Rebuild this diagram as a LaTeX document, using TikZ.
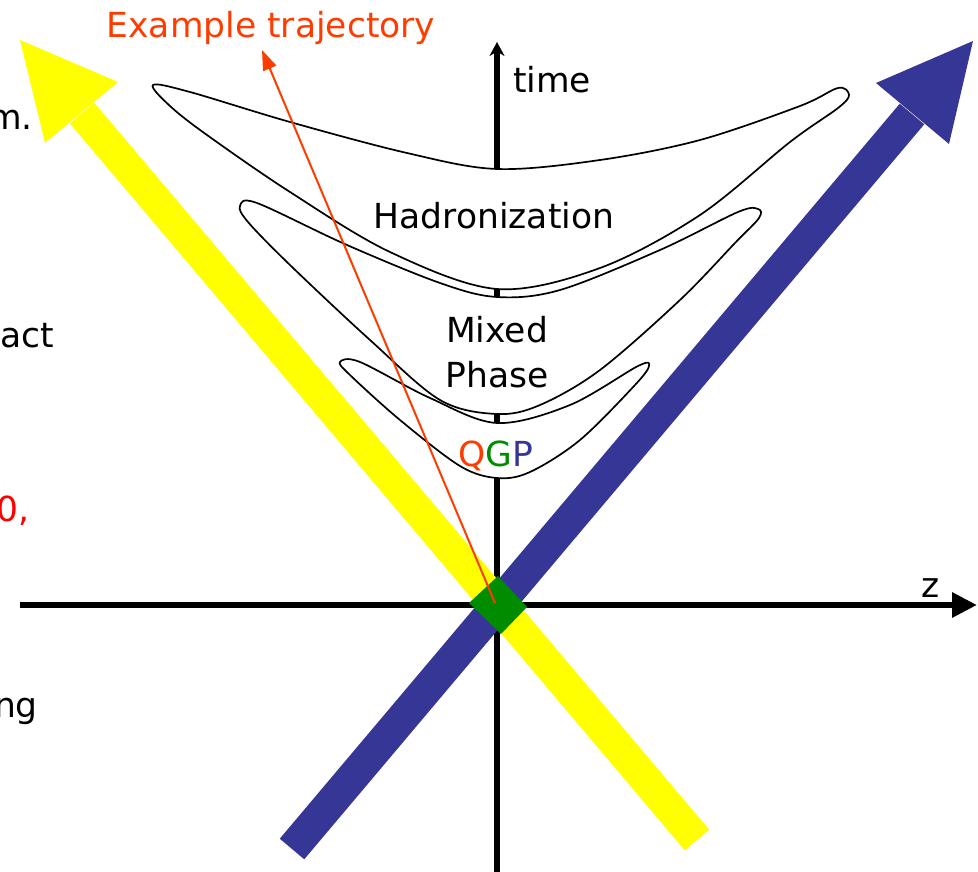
\documentclass[tikz,border=0pt]{standalone}
\usepackage{fontspec}
\setmainfont{DejaVu Sans}
\usetikzlibrary{arrows.meta,calc}

\definecolor{beamblue}{RGB}{54,54,150}
\definecolor{beamyellow}{RGB}{255,255,0}
\definecolor{trajred}{RGB}{255,60,0}
\definecolor{qgpgreen}{RGB}{0,140,0}

\begin{document}
\begin{tikzpicture}[x=1pt, y=-1pt,
            lbl/.style={font=\fontsize{34.5}{45}\selectfont, inner sep=0pt},
            axis/.style={line width=6pt},
            phase/.style={draw, fill=white, line width=1.7pt},
            band/.style={line width=32pt},
            traj/.style={trajred, line width=2pt, -{Triangle[length=20pt,width=14pt]}}
        ]
            \useasboundingbox (0,0) rectangle (978,872);
            
            % Axes
            \coordinate (tbot) at (497,872);
            \coordinate (ttop) at (497,42);
            \coordinate (zleft) at (20,605);
            \coordinate (zright) at (977,605);
            \draw[axis, -{Stealth[length=14pt,width=15pt]}] (tbot) -- (ttop);
            \draw[axis, -{Triangle[length=25pt,width=24pt]}] (zleft) -- (zright);
            \node[lbl] (timetxt) at (552,80) {time};
            \node[lbl] (ztxt) at (931,588) {z};
            
            % Phases
            \draw[phase] plot[smooth cycle, tension=0.55] coordinates {
                (153,85) (190,92) (290,122) (407,153) (497,169) (600,160)
                (700,140) (800,106) (838,88) (849,95) (838,108) (790,142)
                (700,215) (600,268) (497,289) (390,252) (290,192)
                (207,135) (170,106)};
            \draw[phase] plot[smooth cycle, tension=0.55] coordinates {
                (240,206) (257,203) (347,245) (440,283) (497,297) (560,290)
                (660,250) (738,212) (758,209) (759,218) (735,243) (680,300)
                (600,370) (540,405) (497,414) (440,400) (370,340) (290,265)
                (248,222)};
            \draw[phase] plot[smooth cycle, tension=0.55] coordinates {
                (340,362) (360,362) (430,398) (497,423) (570,405) (638,366)
                (649,366) (635,385) (580,440) (530,472) (497,478) (460,466)
                (400,420) (350,375)};
            \node[lbl] (hadtxt) at (494,216) {Hadronization};
            \node[lbl, align=center] (mixtxt) at (497,352) {Mixed\\Phase};
            \node[lbl] (qgptxt) at (496,456) {\textcolor{trajred}{Q}\textcolor{qgpgreen}{G}\textcolor{beamblue}{P}};
            
            % Beams
            \coordinate (ytail) at (697,840);
            \coordinate (ybase) at (82,113);
            \coordinate (btail) at (292,849);
            \coordinate (bbase) at (912,114);
            \draw[band, beamyellow] (ytail) -- (ybase);
            \fill[beamyellow] (20,40) -- (118,82) -- (45,143) -- cycle;
            \draw[band, beamblue] (btail) -- (bbase);
            \fill[beamblue] (973,41) -- (876,83) -- (949,144) -- cycle;
            \fill[qgpgreen] (469,603) -- (498,576) -- (527,607) -- (501,634) -- cycle;
            
            % Trajectory
            \coordinate (origin) at (495,603);
            \node[lbl, text=trajred] (extxt) at (271,28) {Example trajectory};
            \draw[traj] (origin) -- (262,50);
            
            % Cut text
            \node[lbl, anchor=base east] (frag1) at (33,130) {m.};
            \node[lbl, anchor=base east] (frag2) at (54,347) {act};
            \node[lbl, anchor=base east, text=red] (frag3) at (30,521) {0,};
            \node[lbl, anchor=base east] (frag4) at (38,717) {ng};
        \end{tikzpicture}
\end{document}
